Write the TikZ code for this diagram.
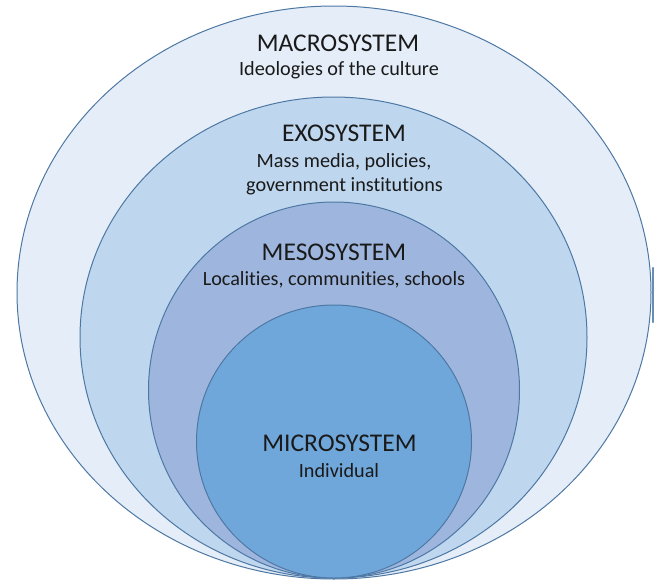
\documentclass[tikz,border=0pt]{standalone}
\usepackage{fontspec}
\setmainfont[Ligatures=NoCommon]{Carlito}
\definecolor{macrofill}{HTML}{E5EEF8}
\definecolor{exofill}{HTML}{BED6EE}
\definecolor{mesofill}{HTML}{9EB6DE}
\definecolor{microfill}{HTML}{70A7DA}
\definecolor{edgeblue}{HTML}{4E78A4}
\definecolor{txt}{HTML}{1A1A1A}
\begin{document}
\begin{tikzpicture}[x=1pt,y=-1pt,
  ring/.style={draw=edgeblue, line width=1pt},
  headtext/.style={font=\fontsize{25.5}{30}\selectfont, anchor=base, text=txt, inner sep=0pt},
  subtext/.style={font=\fontsize{20.2}{24}\selectfont, anchor=base, text=txt, inner sep=0pt, align=center}]
\fill[white] (0,0) rectangle (654,581);
\useasboundingbox (0,0) rectangle (654,581);
\draw[ring, fill=macrofill] (334,292.5) ellipse [x radius=317, y radius=286.5];
\draw[ring, fill=exofill] (333.5,337.5) ellipse [x radius=253.5, y radius=240.5];
\draw[ring, fill=mesofill] (334,390) ellipse [x radius=185.5, y radius=188];
\draw[ring, fill=microfill] (334,441.5) ellipse [x radius=137.5, y radius=136.5];
\draw[edgeblue!85, line width=2.5pt, line cap=round] (653,268) -- (653,322);
\node[headtext] (macroT) at (338,51) {MACROSYSTEM};
\node[subtext] (macroS) at (339,75.5) {Ideologies of the culture};
\node[headtext] (exoT) at (344,141.5) {EXOSYSTEM};
\node[subtext] (exoS1) at (344,167.5) {Mass media, policies,};
\node[subtext] (exoS2) at (344.5,191) {government institutions};
\node[headtext] (mesoT) at (334,260) {MESOSYSTEM};
\node[subtext] (mesoS) at (334,285) {Localities, communities, schools};
\node[headtext] (microT) at (339.5,451) {MICROSYSTEM};
\node[subtext] (microS) at (339,477) {Individual};
\end{tikzpicture}
\end{document}
